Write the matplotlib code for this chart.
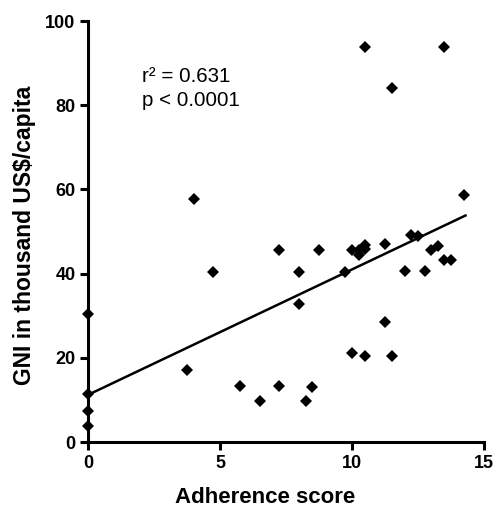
import numpy as np
import matplotlib
matplotlib.use("Agg")
import matplotlib.pyplot as plt

plt.rcParams['font.family'] = ['Liberation Sans', 'DejaVu Sans']

# adherence score vs GNI (thousand US$/capita)
score = [0, 0, 0, 0, 3.75, 4.0, 4.75, 5.75, 6.5, 7.25, 7.25, 8.0, 8.0,
         8.25, 8.5, 8.75, 9.75, 10.0, 10.0, 10.25, 10.25, 10.5, 10.5, 10.5,
         10.5, 11.25, 11.25, 11.5, 11.5, 12.0, 12.25, 12.5, 12.75, 13.0,
         13.25, 13.5, 13.5, 13.75, 14.25]
gni = [3.9, 7.3, 11.5, 30.5, 17.2, 57.8, 40.4, 13.2, 9.8, 13.4, 45.7, 40.5,
       32.8, 9.8, 13.1, 45.7, 40.5, 45.7, 21.1, 45.7, 44.5, 46.7, 20.4, 93.8,
       45.9, 28.4, 47.1, 20.4, 84.2, 40.6, 49.1, 48.9, 40.6, 45.7, 46.5,
       43.2, 93.8, 43.3, 58.6]

# regression line
intercept = 11.2
slope = 2.98
line_x = [0, 14.3]

fig = plt.figure(figsize=(5, 5.09), dpi=100)
ax = fig.add_axes([0.176, 0.1316, 0.792, 0.827])

ax.plot(score, gni, 'D', color='black', markersize=6.4, markeredgewidth=0,
        clip_on=False, zorder=3)
lx = np.array(line_x)
ax.plot(lx, intercept + slope * lx, color='black', linewidth=1.8, zorder=2)

ax.set_xlim(0, 15)
ax.set_ylim(0, 100)
ax.set_xticks([0, 5, 10, 15])
ax.set_yticks([0, 20, 40, 60, 80, 100])

for side in ['top', 'right']:
    ax.spines[side].set_visible(False)
for side in ['left', 'bottom']:
    ax.spines[side].set_linewidth(2.2)

ax.tick_params(width=2.2, length=6, labelsize=13, pad=3)
for lab in ax.get_xticklabels() + ax.get_yticklabels():
    lab.set_fontweight('bold')

ax.set_xlabel('Adherence score', fontsize=16, fontweight='bold', labelpad=11.5)
ax.set_ylabel('GNI in thousand US$/capita', fontsize=16.5, fontweight='bold',
              labelpad=7)
# labels in the original sit a little off-centre
ax.xaxis.label.set_x(0.447)
ax.yaxis.label.set_y(0.49)

ax.text(2.05, 89.0, 'r² = 0.631\np < 0.0001', fontsize=14.8, va='top',
        ha='left', linespacing=1.3)

fig.savefig('out.png', dpi=100)
